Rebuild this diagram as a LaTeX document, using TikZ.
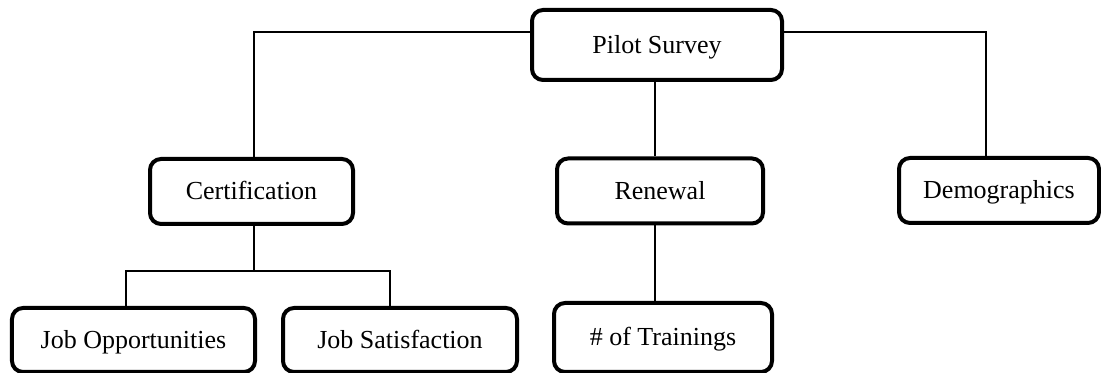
\documentclass[tikz,border=0pt]{standalone}
\usepackage{fontspec}
\setmainfont{Liberation Serif}
\usepackage{tikz}

\begin{document}
\begin{tikzpicture}[
	box/.style={draw, line width=0.08cm, rounded corners=0.22cm, minimum height=1.3cm, inner sep=2pt, text height=2.5ex, text depth=0.45ex, font=\fontsize{14.8}{17}\selectfont},
	link/.style={line width=0.03cm}
]
\useasboundingbox (0,0) rectangle (22.02,7.46);

\node[box, minimum width=5cm, minimum height=1.4cm] (pilot) at (13.14,6.56) {Pilot Survey};
\node[box, minimum width=4.06cm] (cert) at (5.03,3.63) {Certification};
\node[box, minimum width=4.12cm] (renewal) at (13.2,3.64) {Renewal};
\node[box, minimum width=4cm] (demo) at (19.98,3.65) {Demographics};
\node[box, minimum width=4.86cm, minimum height=1.28cm] (jobopp) at (2.67,0.66) {Job Opportunities};
\node[box, minimum width=4.68cm, minimum height=1.28cm] (jobsat) at (8,0.66) {Job Satisfaction};
\node[box, minimum width=4.36cm, minimum height=1.38cm] (trainings) at (13.26,0.71) {\# of Trainings\hspace{0.3cm}};

\coordinate (split) at (5.08,2.04);

\draw[link] ([yshift=0.26cm]pilot.west) -| ([xshift=0.05cm]cert.north);
\draw[link] ([yshift=0.26cm]pilot.east) -| ([xshift=-0.26cm]demo.north);
\draw[link] ([xshift=-0.04cm]pilot.south) -- ([xshift=-0.04cm]pilot.south |- renewal.north);
\draw[link] ([xshift=-0.1cm]renewal.south) -- ([xshift=-0.1cm]renewal.south |- trainings.north);
\draw[link] ([xshift=0.05cm]cert.south) -- (split);
\draw[link] ([xshift=-0.15cm]jobopp.north) |- (split) -| ([xshift=-0.2cm]jobsat.north);
\end{tikzpicture}
\end{document}
